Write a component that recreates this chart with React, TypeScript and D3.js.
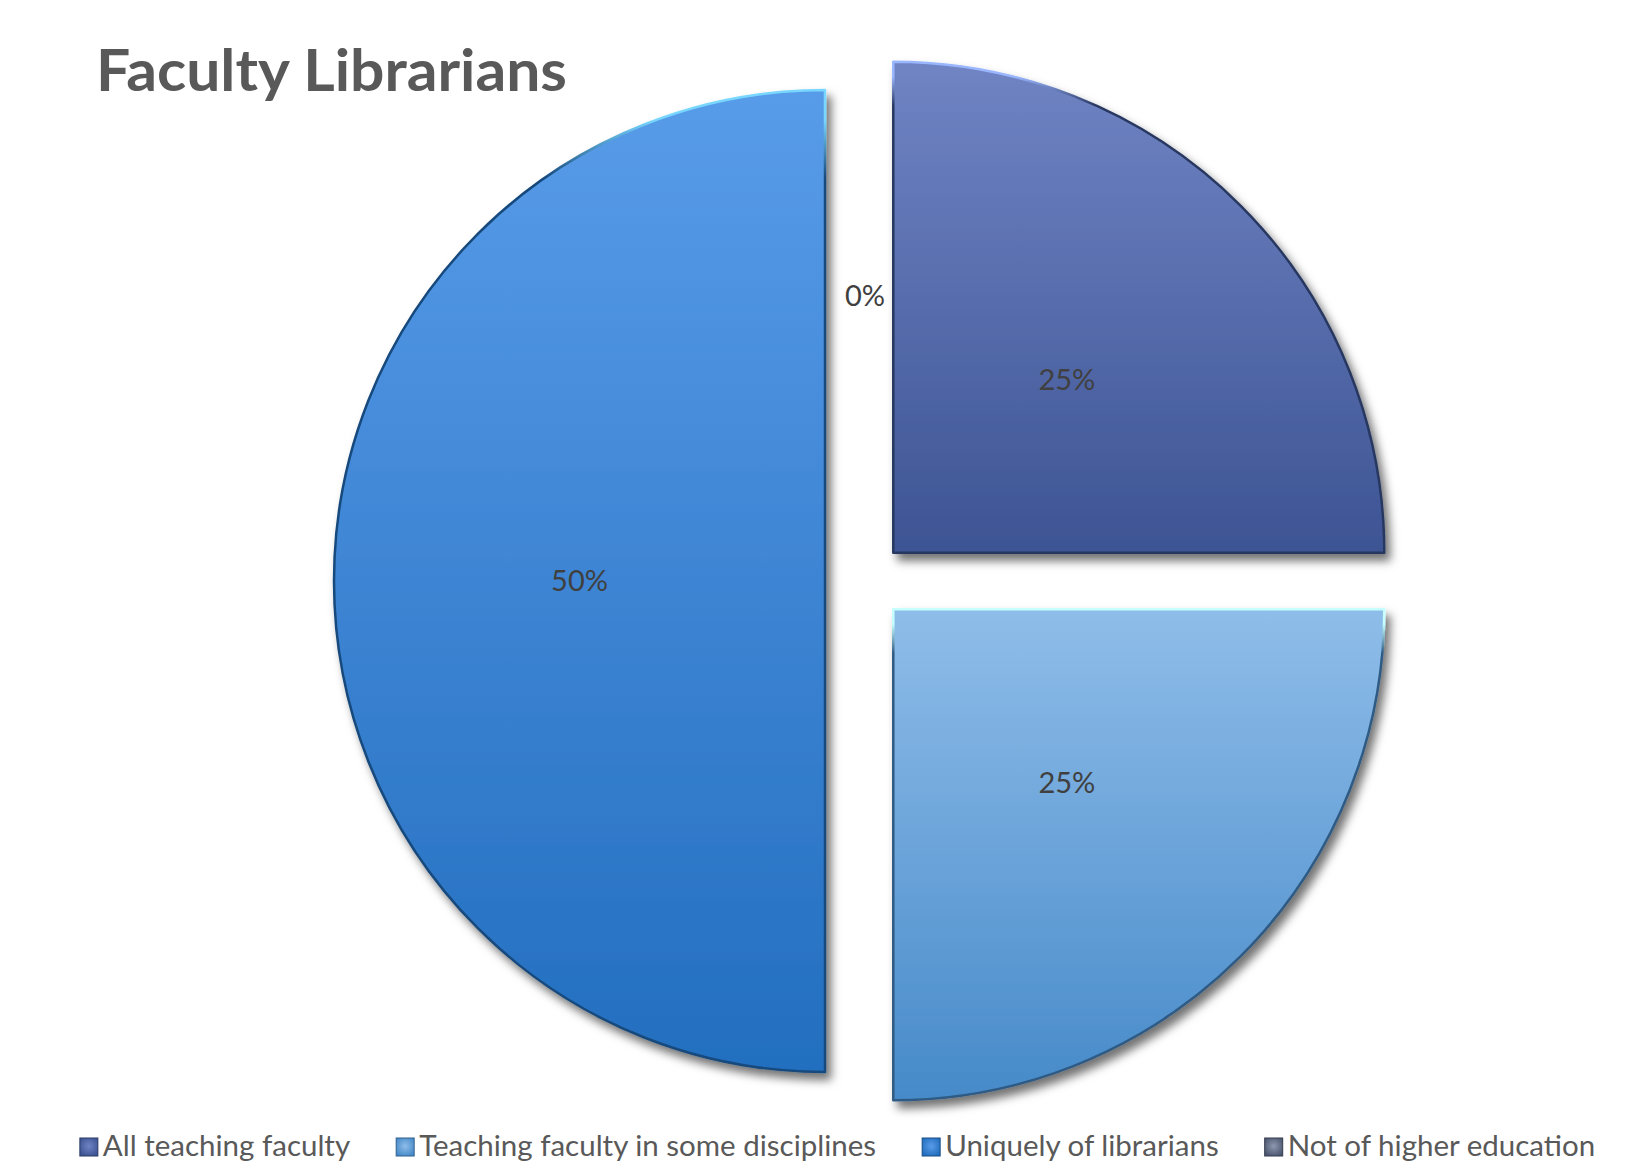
import React, { useEffect, useRef } from 'react';
import * as d3 from 'd3';

// chart data
const categories = [
  'All teaching faculty',
  'Teaching faculty in some disciplines',
  'Uniquely of librarians',
  'Not of higher education',
];
const shares = [25, 25, 50, 0];

// palette (top / bottom of each slice gradient)
const topColors = ['#7084c4', '#8fbde9', '#589ce9', '#8f98ae'];
const bottomColors = ['#3d5493', '#468ac9', '#236ebf', '#4b5670'];

const W = 1641;
const H = 1168;

interface Slice {
  name: string;
  value: number;
  i: number;
}

const App = () => {
  const ref = useRef<SVGSVGElement | null>(null);

  useEffect(() => {
    if (!ref.current) return;
    const svg = d3.select(ref.current);
    svg.selectAll('*').remove();

    const cx = 865;
    const cy = 581;
    const radius = 491;
    const explode = 40;
    const font = "'Gill Sans MT', 'Gill Sans', Lato, sans-serif";

    const data: Slice[] = categories.map((name, i) => ({ name, value: shares[i], i }));

    const defs = svg.append('defs');

    // drop shadow like the office 3D style
    const shadow = defs.append('filter')
      .attr('id', 'shadow')
      .attr('x', '-10%').attr('y', '-10%')
      .attr('width', '130%').attr('height', '130%');
    shadow.append('feDropShadow')
      .attr('dx', 5).attr('dy', 7)
      .attr('stdDeviation', 5)
      .attr('flood-color', '#000')
      .attr('flood-opacity', 0.55);

    data.forEach(d => {
      const fill = defs.append('linearGradient')
        .attr('id', `fill-${d.i}`)
        .attr('x1', 0).attr('y1', 0).attr('x2', 0).attr('y2', 1);
      fill.append('stop').attr('offset', '0%').attr('stop-color', topColors[d.i]);
      fill.append('stop').attr('offset', '100%').attr('stop-color', bottomColors[d.i]);

      // bevel edge: light on top, dark elsewhere
      const dark = d3.color(bottomColors[d.i])!.darker(1.2).formatHex();
      const light = d3.color(topColors[d.i])!.brighter(0.9).formatHex();
      const edge = defs.append('linearGradient')
        .attr('id', `edge-${d.i}`)
        .attr('x1', 0).attr('y1', 0).attr('x2', 0).attr('y2', 1);
      edge.append('stop').attr('offset', '0%').attr('stop-color', light);
      edge.append('stop').attr('offset', '3%').attr('stop-color', light);
      edge.append('stop').attr('offset', '9%').attr('stop-color', dark);
      edge.append('stop').attr('offset', '100%').attr('stop-color', dark);

      // legend marker gradient
      const mark = defs.append('radialGradient')
        .attr('id', `mark-${d.i}`)
        .attr('cx', '50%').attr('cy', '45%').attr('r', '60%');
      mark.append('stop').attr('offset', '0%').attr('stop-color', topColors[d.i]);
      mark.append('stop').attr('offset', '100%').attr('stop-color', bottomColors[d.i]);
    });

    const pie = d3.pie<Slice>()
      .sort(null)
      .value(d => d.value)
      .startAngle(0)
      .endAngle(2 * Math.PI);

    const arc = d3.arc<d3.PieArcDatum<Slice>>()
      .innerRadius(0)
      .outerRadius(radius);

    const labelArc = d3.arc<d3.PieArcDatum<Slice>>()
      .innerRadius(radius * 0.5)
      .outerRadius(radius * 0.5);

    const offset = (a: d3.PieArcDatum<Slice>) => {
      const mid = (a.startAngle + a.endAngle) / 2;
      return [explode * Math.sin(mid), -explode * Math.cos(mid)];
    };

    const arcs = pie(data);

    const g = svg.append('g').attr('transform', `translate(${cx}, ${cy})`);

    g.selectAll('.slice')
      .data(arcs.filter(a => a.data.value > 0))
      .enter().append('path')
      .attr('class', 'slice')
      .attr('transform', a => `translate(${offset(a).join(',')})`)
      .attr('d', arc)
      .attr('fill', a => `url(#fill-${a.data.i})`)
      .attr('stroke', a => `url(#edge-${a.data.i})`)
      .attr('stroke-width', 2.5)
      .attr('stroke-linejoin', 'round')
      .attr('filter', 'url(#shadow)');

    g.selectAll('.pct')
      .data(arcs)
      .enter().append('text')
      .attr('class', 'pct')
      .attr('transform', a => {
        const [ox, oy] = offset(a);
        const [lx, ly] = labelArc.centroid(a);
        return `translate(${lx + ox}, ${ly + oy})`;
      })
      .attr('text-anchor', 'middle')
      .attr('dy', '0.36em')
      .attr('font-family', font)
      .attr('font-size', 29)
      .attr('fill', '#404040')
      .text(a => `${a.data.value}%`);

    // title
    svg.append('text')
      .attr('x', 96)
      .attr('y', 91)
      .attr('font-family', font)
      .attr('font-weight', 'bold')
      .attr('font-size', 57)
      .attr('fill', '#595959')
      .attr('textLength', 471)
      .attr('lengthAdjust', 'spacingAndGlyphs')
      .text('Faculty Librarians');

    // legend, laid out from measured label widths and centred under the pie
    const legend = svg.append('g');
    const items = legend.selectAll('.item')
      .data(data)
      .enter().append('g')
      .attr('class', 'item');
    items.append('rect')
      .attr('width', 18).attr('height', 18)
      .attr('y', 1138)
      .attr('fill', d => `url(#mark-${d.i})`)
      .attr('stroke', d => d3.color(bottomColors[d.i])!.darker(1).formatHex())
      .attr('stroke-width', 1);
    const texts = items.append('text')
      .attr('y', 1156)
      .attr('font-family', font)
      .attr('font-size', 29.5)
      .attr('fill', '#595959')
      .text(d => d.name);

    const widths: number[] = [];
    texts.each(function () {
      widths.push((this as SVGTextElement).getComputedTextLength());
    });
    const markGap = 23;
    const itemGap = 46;
    const total = d3.sum(widths) + markGap * widths.length + itemGap * (widths.length - 1);
    const left = 84;
    const right = 1591;
    let x = left + (right - left - total) / 2;
    items.each(function (_, idx) {
      const item = d3.select(this);
      item.select('rect').attr('x', x);
      item.select('text').attr('x', x + markGap);
      x += markGap + widths[idx] + itemGap;
    });
  }, []);

  return (
    <svg
      ref={ref}
      width={W}
      height={H}
      style={{ position: 'absolute', left: 0, top: 0, display: 'block', background: '#fff' }}
    />
  );
};

export default App;
